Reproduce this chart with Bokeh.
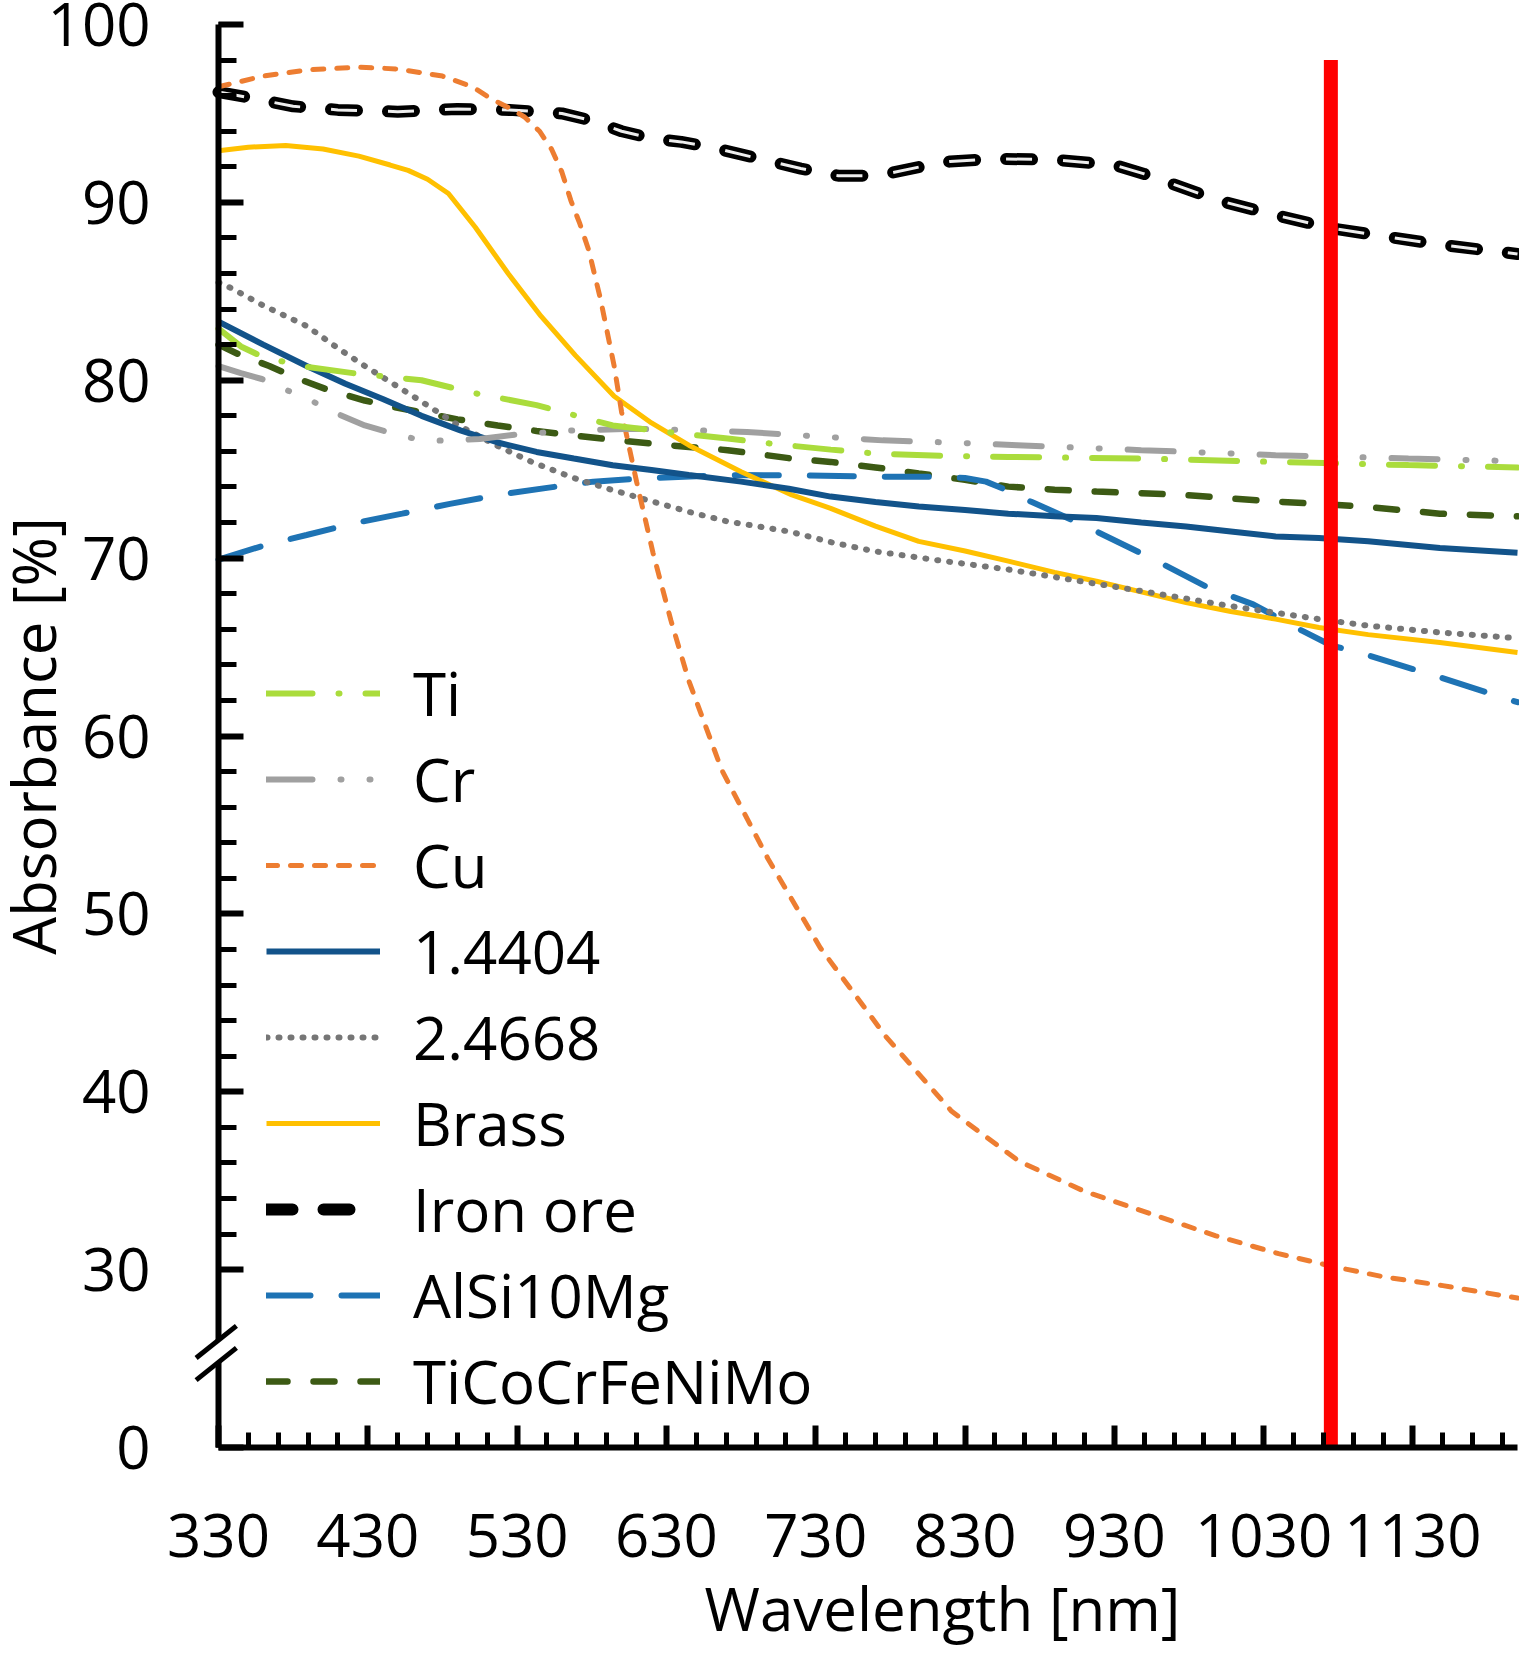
from bokeh.plotting import figure
from bokeh.models import FixedTicker, Legend, LegendItem, Range1d, LinearAxis
from bokeh.embed import file_html
from bokeh.resources import INLINE

# ---------------- data ----------------
ti_x = [330, 345, 360, 389, 420, 466, 500, 543, 570, 594, 630, 671, 704, 740, 770, 815, 859, 948, 1038, 1127, 1200]
ti_y = [82.9, 81.9, 81.3, 80.75, 80.4, 80.0, 79.3, 78.6, 78.0, 77.46, 77.1, 76.72, 76.4, 76.1, 75.88, 75.75, 75.69, 75.6, 75.41, 75.23, 75.1]

cr_x = [330, 345, 359, 377, 394, 410, 428, 447, 466, 485, 505, 530, 568, 607, 645, 684, 730, 775, 820, 865, 948, 1038, 1127, 1200]
cr_y = [80.8, 80.4, 80.07, 79.4, 78.77, 78.1, 77.46, 77.0, 76.62, 76.6, 76.7, 76.95, 77.18, 77.27, 77.2, 77.09, 76.85, 76.62, 76.5, 76.35, 76.07, 75.79, 75.6, 75.45]

cu_x = [330, 360, 390, 424, 450, 480, 500, 513, 525, 535, 545, 553, 560, 566, 572, 578, 586, 595, 600, 610, 621, 633, 645, 667, 698, 733, 777, 821, 866, 910, 954, 998, 1040, 1075, 1110, 1150, 1200]
cu_y = [96.5, 97.1, 97.45, 97.6, 97.5, 97.1, 96.5, 95.8, 95.3, 94.8, 94.0, 93.0, 91.7, 90.1, 88.8, 87.3, 84.5, 80.8, 78.2, 74.3, 70.3, 66.5, 63.1, 58.1, 53.1, 48.1, 43.1, 38.9, 36.1, 34.4, 33.15, 31.9, 30.9, 30.2, 29.6, 29.1, 28.4]

s14404_x = [330, 360, 389, 415, 440, 466, 492, 517, 543, 568, 594, 620, 645, 680, 712, 740, 770, 799, 830, 859, 890, 918, 948, 978, 1008, 1038, 1067, 1100, 1148, 1200]
s14404_y = [83.3, 82.0, 80.8, 79.8, 78.95, 78.0, 77.18, 76.5, 75.97, 75.6, 75.22, 74.95, 74.67, 74.3, 73.9, 73.46, 73.15, 72.9, 72.7, 72.5, 72.35, 72.25, 72.0, 71.78, 71.5, 71.22, 71.13, 70.95, 70.57, 70.3]

s24668_x = [330, 338, 360, 389, 410, 428, 447, 466, 490, 517, 540, 568, 595, 620, 645, 671, 712, 740, 769, 810, 859, 900, 948, 1008, 1067, 1100, 1148, 1200]
s24668_y = [85.5, 85.2, 84.2, 83.05, 81.8, 80.8, 79.8, 78.8, 77.5, 76.3, 75.4, 74.5, 73.8, 73.2, 72.6, 72.06, 71.5, 70.9, 70.39, 69.9, 69.36, 68.8, 68.15, 67.3, 66.57, 66.2, 65.82, 65.5]

brass_x = [330, 350, 375, 400, 424, 445, 457, 470, 484, 502, 524, 546, 569, 595, 620, 645, 680, 714, 740, 770, 799, 830, 859, 890, 918, 948, 978, 1008, 1038, 1067, 1100, 1148, 1200]
brass_y = [92.9, 93.1, 93.2, 93.0, 92.6, 92.1, 91.8, 91.3, 90.5, 88.6, 86.0, 83.6, 81.4, 79.1, 77.6, 76.35, 74.86, 73.55, 72.8, 71.8, 70.94, 70.4, 69.83, 69.2, 68.7, 68.1, 67.5, 67.0, 66.57, 66.1, 65.7, 65.26, 64.7]

iron_x = [330, 350, 380, 410, 450, 490, 525, 560, 580, 600, 620, 640, 660, 690, 720, 745, 765, 780, 800, 820, 850, 890, 930, 950, 965, 1000, 1037, 1075, 1110, 1150, 1200]
iron_y = [96.2, 95.9, 95.4, 95.2, 95.1, 95.25, 95.2, 95.0, 94.6, 94.0, 93.6, 93.4, 93.1, 92.5, 91.9, 91.5, 91.5, 91.65, 92.0, 92.3, 92.45, 92.4, 92.1, 91.6, 91.15, 90.1, 89.3, 88.55, 88.1, 87.6, 87.1]

alsi_x = [330, 360, 389, 420, 453, 485, 517, 550, 581, 614, 650, 680, 720, 769, 814, 830, 844, 860, 874, 895, 918, 940, 963, 993, 1023, 1056, 1075, 1097, 1148, 1200]
alsi_y = [69.92, 70.7, 71.3, 71.95, 72.5, 73.05, 73.55, 73.95, 74.3, 74.48, 74.6, 74.67, 74.65, 74.58, 74.58, 74.5, 74.3, 73.75, 73.18, 72.4, 71.5, 70.6, 69.64, 68.33, 67.4, 65.91, 65.1, 64.61, 63.3, 61.9]

hea_x = [330, 345, 364, 383, 402, 428, 447, 466, 490, 517, 543, 568, 594, 620, 645, 671, 714, 740, 770, 799, 830, 859, 890, 918, 948, 978, 1008, 1038, 1067, 1097, 1148, 1200]
hea_y = [82.0, 81.4, 80.8, 80.1, 79.5, 78.86, 78.5, 78.2, 77.8, 77.46, 77.15, 76.9, 76.65, 76.44, 76.25, 76.07, 75.6, 75.41, 75.1, 74.76, 74.4, 74.02, 73.85, 73.74, 73.65, 73.55, 73.35, 73.18, 73.05, 72.9, 72.5, 72.35]

laser_nm = 1075
laser_top = 98.0

x_major = [330, 430, 530, 630, 730, 830, 930, 1030, 1130]
x_minor = list(range(330, 1200, 20))
y_major = [20, 30, 40, 50, 60, 70, 80, 90, 100]
y_minor = list(range(30, 101, 2))
y_labels = {20: "0"}          # broken axis: the bottom tick stands for 0
y_zero = 20                   # position of the "0" tick
break_lo, break_hi = 24.8, 26.05
x_lo, x_hi = 330, 1200

FONT = "Open Sans"

# ---------------- figure (frame fills the canvas; axes sit at fixed data positions) ----------------
W, H = 1519, 1649
AX_LEFT, AX_BOTTOM, TOP100 = 218.0, 1447.0, 24.0      # pixel positions of x=330, y=20 (0), y=100
sx = (W - 2 - AX_LEFT) / (x_hi - x_lo)
sy = (AX_BOTTOM - TOP100) / (100 - y_zero)
xr = Range1d(x_lo - AX_LEFT / sx, x_lo + (W - AX_LEFT) / sx)
yr = Range1d(y_zero - (H - AX_BOTTOM) / sy, 100 + TOP100 / sy)

p = figure(width=W, height=H, output_backend="svg", toolbar_location=None,
           x_range=xr, y_range=yr,
           min_border_left=0, min_border_right=0, min_border_top=0, min_border_bottom=0)
p.outline_line_color = None
p.grid.visible = False
p.background_fill_color = "white"

for ax in (p.xaxis[0], p.yaxis[0]):
    ax.axis_line_width = 6
    ax.axis_line_color = "black"
    ax.major_tick_line_width = 6
    ax.minor_tick_line_width = 5
    ax.major_tick_out = 0
    ax.minor_tick_out = 0
    ax.major_label_text_font = FONT
    ax.major_label_text_font_size = "60px"
    ax.major_label_text_color = "black"

p.xaxis.fixed_location = y_zero
p.xaxis.bounds = (x_lo, x_hi)
p.xaxis.ticker = FixedTicker(ticks=x_major, minor_ticks=x_minor)
p.xaxis.major_tick_in = 22
p.xaxis.minor_tick_in = 15
p.xaxis.major_label_standoff = 66

p.yaxis.fixed_location = x_lo
p.yaxis.bounds = (y_zero, 100)
p.yaxis.ticker = FixedTicker(ticks=y_major, minor_ticks=y_minor)
p.yaxis.major_label_overrides = y_labels
p.yaxis.major_tick_in = 25
p.yaxis.minor_tick_in = 18
p.yaxis.major_label_standoff = 68
p.yaxis.axis_label = "Absorbance [%]"
p.yaxis.axis_label_standoff = -29
p.yaxis.axis_label_text_font = FONT
p.yaxis.axis_label_text_font_size = "60px"
p.yaxis.axis_label_text_font_style = "normal"
p.yaxis.axis_label_text_color = "black"

# x-axis title (carried by a tick-less axis so it can sit off-centre like the original)
title_axis = LinearAxis(fixed_location=y_zero, bounds=(430, x_hi), ticker=FixedTicker(ticks=[]),
                        axis_line_color=None, major_tick_line_color=None, minor_tick_line_color=None,
                        major_label_standoff=0, axis_label="Wavelength [nm]", axis_label_standoff=119,
                        axis_label_text_font=FONT, axis_label_text_font_size="60px",
                        axis_label_text_font_style="normal", axis_label_text_color="black")
p.add_layout(title_axis, "below")

# series
r_hea = p.line(hea_x, hea_y, line_color="#3C5A14", line_width=6.5, line_dash="21 26", line_cap="round")
r_alsi = p.line(alsi_x, alsi_y, line_color="#1E73B4", line_width=6, line_dash="44 31", line_cap="round")
r_iron = p.line(iron_x, iron_y, line_color="black", line_width=12, line_dash="26 31",
                line_cap="round", line_join="round")
p.line(iron_x, iron_y, line_color="#EDEDED", line_width=3, line_dash="26 31", line_join="round")
r_brass = p.line(brass_x, brass_y, line_color="#FFC000", line_width=5)
r_244 = p.line(s24668_x, s24668_y, line_color="#767676", line_width=6, line_dash="1 11", line_cap="round")
r_144 = p.line(s14404_x, s14404_y, line_color="#12538A", line_width=6)
r_cu = p.line(cu_x, cu_y, line_color="#ED7D31", line_width=5, line_dash="11 13", line_cap="round")
r_cr = p.line(cr_x, cr_y, line_color="#A0A0A0", line_width=6, line_dash="46 28 1 28 1 28", line_cap="round")
r_ti = p.line(ti_x, ti_y, line_color="#AADC3C", line_width=6, line_dash="46 26 1 26", line_cap="round")

# laser wavelength marker
p.segment(x0=[laser_nm], y0=[y_zero], x1=[laser_nm], y1=[laser_top],
          line_color="#FF0000", line_width=14)

# axis break: gap in the y spine plus two slashes
p.segment(x0=[x_lo], y0=[break_lo], x1=[x_lo], y1=[break_hi],
          line_color="white", line_width=12, level="overlay")
p.segment(x0=[315, 315], y0=[25.03, 23.79], x1=[342, 342], y1=[26.84, 25.6],
          line_color="black", line_width=5, level="overlay")

# legend
items = [
    LegendItem(label="Ti", renderers=[r_ti]),
    LegendItem(label="Cr", renderers=[r_cr]),
    LegendItem(label="Cu", renderers=[r_cu]),
    LegendItem(label="1.4404", renderers=[r_144]),
    LegendItem(label="2.4668", renderers=[r_244]),
    LegendItem(label="Brass", renderers=[r_brass]),
    LegendItem(label="Iron ore", renderers=[r_iron]),
    LegendItem(label="AlSi10Mg", renderers=[r_alsi]),
    LegendItem(label="TiCoCrFeNiMo", renderers=[r_hea]),
]
legend = Legend(items=items, location=(266, 225), glyph_width=114, glyph_height=40,
                label_standoff=33, spacing=0, padding=0, margin=0, label_height=86,
                border_line_color=None, background_fill_alpha=0,
                label_text_font=FONT, label_text_font_size="60px", label_text_color="black")
p.add_layout(legend, "center")

open("out.html", "w").write(file_html(p, INLINE))
